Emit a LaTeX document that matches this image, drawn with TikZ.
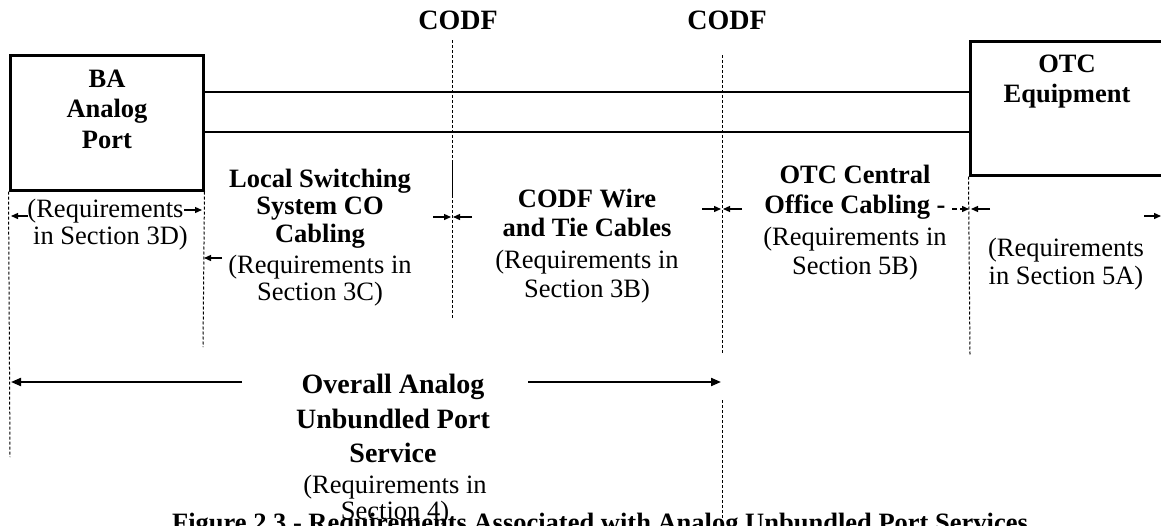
\documentclass[tikz,border=0pt]{standalone}
\usepackage{fontspec}
\setmainfont{Liberation Serif}
\usetikzlibrary{arrows.meta}
\newcommand\fsN{\fontsize{26.5}{30}\selectfont}
\newcommand\fsC{\fontsize{28}{32}\selectfont}
\begin{document}
\begin{tikzpicture}[x=1pt,y=-1pt,
  bt/.style={font=\fsN\bfseries, anchor=base, inner sep=0pt},
  nt/.style={font=\fsN, anchor=base, inner sep=0pt},
  btc/.style={font=\fsC\bfseries, anchor=base, inner sep=0pt},
  box/.style={draw, line width=3pt, inner sep=0pt},
  wire/.style={line width=2.7pt},
  guide/.style={line width=1pt, dash pattern=on 3pt off 2pt},
  sarr/.style={line width=1.3pt, -{Triangle[length=7pt,width=6pt]}},
  barr/.style={line width=2pt, -{Triangle[length=10pt,width=8pt]}}]
\useasboundingbox (0,0) rectangle (1161,525);
\fill[white] (0,0) rectangle (1161,525);

% CODF labels
\node[btc] (codfa) at (458,29) {CODF};
\node[btc] (codfb) at (727,29) {CODF};

% boxes
\node[box, minimum width=193pt, minimum height=135pt] (ba) at (106.5,122.5) {};
\node[bt] (ba1) at (107,87) {BA};
\node[bt] (ba2) at (107,117) {Analog};
\node[bt] (ba3) at (107,148) {Port};
\node[box, minimum width=210pt, minimum height=134pt] (otc) at (1075,108) {};
\node[bt] (otc1) at (1067,72) {OTC};
\node[bt] (otc2) at (1067,102) {Equipment};

% wires
\draw[wire] (ba.east |- 0,92) -- (otc.west |- 0,92);
\draw[wire] (ba.east |- 0,132) -- (otc.west |- 0,132);

% guide lines
\draw[guide] (ba.south west) -- (10,457);
\draw[guide] (ba.south east) -- (203,347);
\draw[guide] (452,40) -- (452,318);
\draw[line width=1pt] (452,163) -- (452,198);
\draw[guide] (722,55) -- (722,353);
\draw[guide] (722,400) -- (722,525);
\draw[guide] (otc.south west) -- (970,355);

% section 3D
\node[nt] (r3da) at (105.5,217) {(Requirements};
\node[nt] (r3db) at (110.5,244) {in Section 3D)};
\draw[sarr] (28,216) -- (11,216);
\draw[sarr] (184,210) -- (202,210);

% section 3C
\node[bt] (lsa) at (320,187) {Local Switching};
\node[bt] (lsb) at (320,214) {System CO};
\node[bt] (lsc) at (320,242) {Cabling};
\node[nt] (lsd) at (320,273) {(Requirements in};
\node[nt] (lse) at (320,300) {Section 3C)};
\draw[sarr] (222,258) -- (204,258);
\draw[sarr] (433,217) -- (451,217);
\draw[sarr] (472,217) -- (453,217);

% section 3B
\node[bt] (cwa) at (587,207) {CODF Wire};
\node[bt] (cwb) at (587,236) {and Tie Cables};
\node[nt] (cwc) at (587,268) {(Requirements in};
\node[nt] (cwd) at (587,297) {Section 3B)};
\draw[sarr] (702,209) -- (721,209);
\draw[sarr] (742,209) -- (723,209);

% section 5B
\node[bt] (oca) at (855,183) {OTC Central};
\node[bt] (ocb) at (855,213) {Office Cabling -};
\node[nt] (occ) at (855,245) {(Requirements in};
\node[nt] (ocd) at (855,274) {Section 5B)};
\draw[sarr, dash pattern=on 5pt off 3pt] (952,209) -- (969,209);
\draw[sarr] (990,209) -- (971,209);

% section 5A
\node[nt] (r5aa) at (1066,256) {(Requirements};
\node[nt] (r5ab) at (1066,284) {in Section 5A)};
\draw[sarr] (1144,216) -- (1161,216);

% overall
\node[btc] (ova) at (393,393) {Overall Analog};
\node[btc] (ovb) at (393,428) {Unbundled Port};
\node[btc] (ovc) at (393,462) {Service};
\node[nt] (ovd) at (395,493) {(Requirements in};
\node[nt] (ove) at (395,519) {Section 4)};
\draw[barr] (242,382) -- (11,382);
\draw[barr] (528,382) -- (721,382);

% caption (cut by the page edge)
\node[bt] (cap) at (600,531) {Figure 2.3 - Requirements Associated with Analog Unbundled Port Services};
\end{tikzpicture}
\end{document}
